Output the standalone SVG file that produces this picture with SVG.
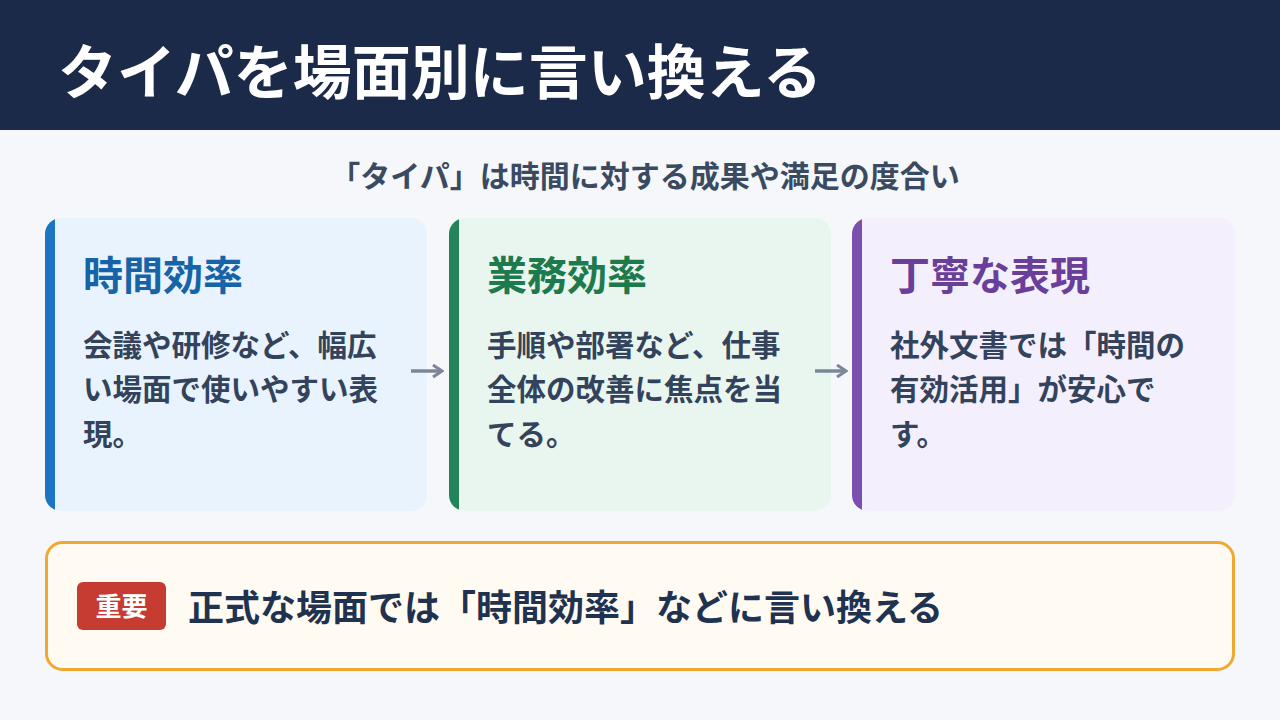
<svg xmlns="http://www.w3.org/2000/svg" width="1280" height="720" viewBox="0 0 1280 720">
<style>
text{font-family:"Noto Sans CJK JP","Noto Sans",sans-serif}
.t{font-size:40px;font-weight:700}
.b{font-size:29.5px;font-weight:700;fill:#33435c}
.ar{stroke:#7b8799;stroke-width:3.5;fill:none}
</style>
<defs>
<marker id="ah" markerWidth="12" markerHeight="14" refX="9" refY="7" orient="auto" markerUnits="userSpaceOnUse"><path d="M1,1 L10,7 L1,13" fill="none" stroke="#7b8799" stroke-width="3"/></marker>
<clipPath id="c1"><rect x="45" y="218" width="382" height="293" rx="16"/></clipPath>
<clipPath id="c2"><rect x="449" y="218" width="382" height="293" rx="16"/></clipPath>
<clipPath id="c3"><rect x="852" y="218" width="383" height="293" rx="16"/></clipPath>
</defs>
<rect width="1280" height="720" fill="#f5f7fb"/>
<g id="header"><rect width="1280" height="130" fill="#1c2a4a"/>
<text x="58" y="94" font-size="59" font-weight="700" fill="#fff">タイパを場面別に言い換える</text></g>
<text x="645" y="187" font-size="30" font-weight="700" fill="#3a4a60" text-anchor="middle">「タイパ」は時間に対する成果や満足の度合い</text>
<g id="card1" clip-path="url(#c1)"><rect x="45" y="218" width="382" height="293" fill="#e8f3fd"/><rect x="45" y="218" width="10" height="293" fill="#1b75c4"/>
<text x="83" y="290" class="t" fill="#1763a8">時間効率</text>
<text class="b"><tspan x="83" y="356">会議や研修など、幅広</tspan><tspan x="83" y="400">い場面で使いやすい表</tspan><tspan x="83" y="445">現。</tspan></text></g>
<g id="card2" clip-path="url(#c2)"><rect x="449" y="218" width="382" height="293" fill="#e9f6ef"/><rect x="449" y="218" width="10" height="293" fill="#23845a"/>
<text x="487" y="290" class="t" fill="#1d7a4c">業務効率</text>
<text class="b"><tspan x="487" y="356">手順や部署など、仕事</tspan><tspan x="487" y="400">全体の改善に焦点を当</tspan><tspan x="487" y="445">てる。</tspan></text></g>
<g id="card3" clip-path="url(#c3)"><rect x="852" y="218" width="383" height="293" fill="#f4effd"/><rect x="852" y="218" width="10" height="293" fill="#7b4fae"/>
<text x="890" y="290" class="t" fill="#6a3f9a">丁寧な表現</text>
<text class="b"><tspan x="890" y="356">社外文書では「時間の</tspan><tspan x="890" y="400">有効活用」が安心で</tspan><tspan x="890" y="445">す。</tspan></text></g>
<g id="connectors"><line x1="411" y1="371" x2="441" y2="371" class="ar" marker-end="url(#ah)"/><line x1="815" y1="371" x2="845" y2="371" class="ar" marker-end="url(#ah)"/></g>
<g id="note"><rect x="46.5" y="542.5" width="1187" height="127" rx="16" fill="#fffbf3" stroke="#f0a830" stroke-width="3"/>
<rect x="77" y="582" width="89" height="48" rx="6" fill="#c63b32"/>
<text x="121.5" y="616" font-size="26" font-weight="700" fill="#fff" text-anchor="middle">重要</text>
<text x="188" y="621" font-size="36" font-weight="700" fill="#1f3350">正式な場面では「時間効率」などに言い換える</text></g>
</svg>
